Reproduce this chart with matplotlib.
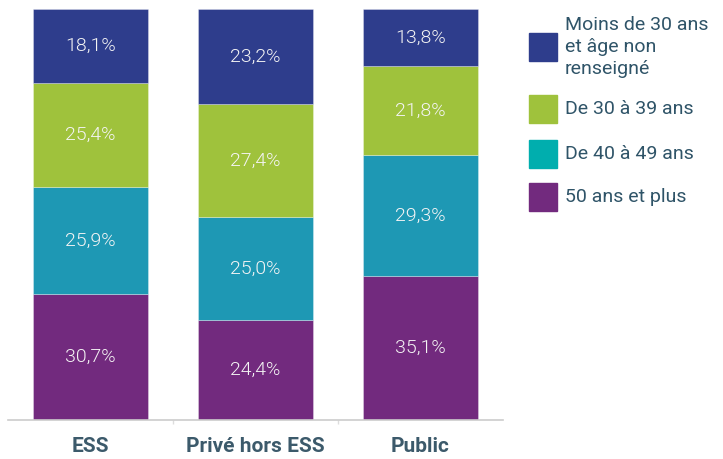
import matplotlib.pyplot as plt
from matplotlib import font_manager
from matplotlib.patches import Rectangle
import numpy as np

plt.rcParams['font.family'] = ['Roboto', 'DejaVu Sans']

# data
categories = ['ESS', 'Privé hors ESS', 'Public']
moins_30 = [18.1, 23.2, 13.8]
de_30_39 = [25.4, 27.4, 21.8]
de_40_49 = [25.9, 25.0, 29.3]
plus_50 = [30.7, 24.4, 35.1]
series_labels = ['Moins de 30 ans\net âge non\nrenseigné', 'De 30 à 39 ans',
                 'De 40 à 49 ans', '50 ans et plus']

bar_colors = ['#2e3d8c', '#9fc23c', '#1e98b4', '#722a7e']
legend_colors = ['#2e3d8c', '#9fc23c', '#00aeae', '#722a7e']

# police Roboto Light pour les valeurs
light = [f.fname for f in font_manager.fontManager.ttflist
         if f.fname.endswith('Roboto-Light.ttf')]
if light:
    val_font = font_manager.FontProperties(fname=light[0], size=14)
else:
    val_font = font_manager.FontProperties(family='Roboto', weight='light', size=14)

fig = plt.figure(figsize=(7.23, 4.59), dpi=100)
ax = fig.add_axes([8/723, 39/459, 495/723, 411/459])

x = np.arange(len(categories))
stack = [plus_50, de_40_49, de_30_39, moins_30]
stack_colors = [bar_colors[3], bar_colors[2], bar_colors[1], bar_colors[0]]
bottom = np.zeros(len(categories))
for vals, col in zip(stack, stack_colors):
    vals = np.array(vals)
    ax.bar(x, vals, bottom=bottom, width=0.70, color=col,
           edgecolor=(1, 1, 1, 0.35), linewidth=0.6)
    for xi, b, v in zip(x, bottom, vals):
        ax.text(xi, b + v / 2, f'{v:.1f}%'.replace('.', ','), ha='center', va='center',
                color='#f4f4f4', fontproperties=val_font)
    bottom = bottom + vals

ax.set_xlim(-0.5, 2.5)
ax.set_ylim(0, 100)
for s in ['top', 'right', 'left']:
    ax.spines[s].set_visible(False)
ax.spines['bottom'].set_color('#cccccc')
ax.spines['bottom'].set_linewidth(1.2)
ax.set_yticks([])
ax.set_xticks(x)
ax.set_xticklabels(categories, fontsize=15, fontweight='bold', color='#3c5a6b')
ax.tick_params(axis='x', which='major', length=0, pad=12)
ax.set_xticks([0.5, 1.5], minor=True)
ax.tick_params(axis='x', which='minor', length=3, color='#dddddd', width=1)

# légende dessinée à la main
W, H = 723, 459
legend_y = [47, 109, 154, 197]
for lab, col, yc in zip(series_labels, legend_colors, legend_y):
    fig.add_artist(Rectangle((529 / W, (H - yc - 14) / H), 28 / W, 28 / H,
                             transform=fig.transFigure, color=col))
    fig.text(565 / W, (H - yc) / H, lab, ha='left', va='center', fontsize=14,
             color='#2f5468', linespacing=1.3)

fig.savefig('out.png', dpi=100)
